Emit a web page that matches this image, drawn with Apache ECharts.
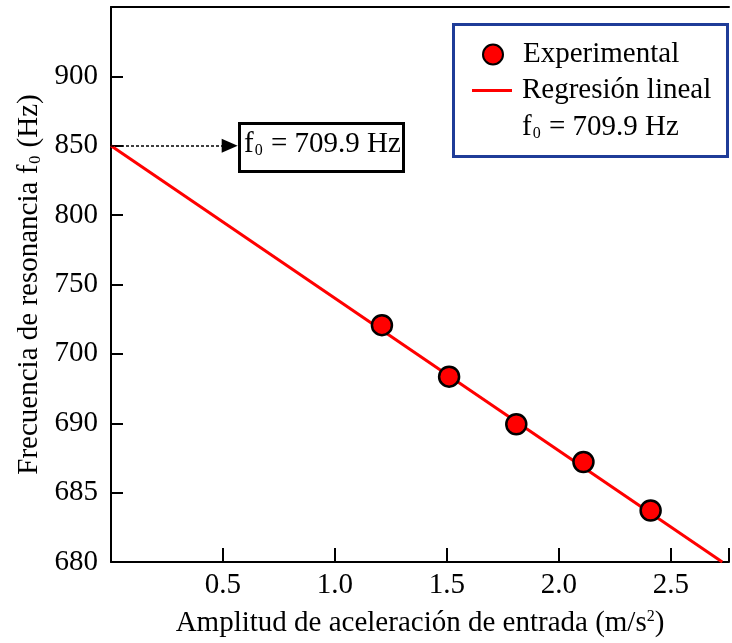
<!DOCTYPE html>
<html>
<head>
<meta charset="utf-8">
<script src="https://cdn.jsdelivr.net/npm/echarts@6/dist/echarts.min.js"></script>
<style>html,body{margin:0;padding:0;background:#fff;}#c{width:732px;height:643px;}</style>
</head>
<body>
<div id="c"></div>
<script>
// Data (y values are in the axis' linear drawing scale; tick labels map that scale to printed labels)
var expX = [1.21, 1.51, 1.81, 2.11, 2.41];
var expY = [720.7, 683.6, 649.3, 622.1, 587.1];
var regX = [0, 2.73];
var regY = [850, 550];
var yTickValues = [550, 600, 650, 700, 750, 800, 850, 900];
var yTickLabels = ['680', '685', '690', '700', '750', '800', '850', '900'];
var xTickValues = [0.5, 1.0, 1.5, 2.0, 2.5];
var xTickLabels = ['0.5', '1.0', '1.5', '2.0', '2.5'];
var f0Text = '709.9 Hz';

var FONT = 'Liberation Serif';
var FS = 29;
var chart = echarts.init(document.getElementById('c'));
var subRich = {
  sub: { fontSize: 16, fontFamily: FONT, color: '#000', verticalAlign: 'bottom', lineHeight: 14, padding: [0, 1, 0, 1] },
  sup: { fontSize: 16, fontFamily: FONT, color: '#000', verticalAlign: 'top', lineHeight: 14 }
};

function zip(a, b) { return a.map(function (v, i) { return [v, b[i]]; }); }

var legendText = { fontSize: FS, fontFamily: FONT, color: '#000', padding: [0, 0, 0, 5] };

chart.setOption({
  animation: false,
  backgroundColor: '#fff',
  grid: { left: 111, top: 7, right: 0, bottom: 75, containLabel: false },
  xAxis: [{
    type: 'value', min: 0, max: 2.76, interval: 0.5,
    position: 'bottom',
    name: 'Amplitud de aceleración de entrada (m/s{sup|2})',
    nameLocation: 'middle', nameGap: 47,
    nameTextStyle: { fontSize: FS, fontFamily: FONT, color: '#000', rich: subRich },
    axisLine: { lineStyle: { color: '#000', width: 2 } },
    axisTick: { inside: true, length: 14, lineStyle: { color: '#000', width: 2 } },
    axisLabel: {
      fontSize: FS, fontFamily: FONT, color: '#000', margin: 9,
      formatter: function (v) {
        for (var i = 0; i < xTickValues.length; i++) if (Math.abs(v - xTickValues[i]) < 1e-6) return xTickLabels[i];
        return '';
      }
    },
    splitLine: { show: false }
  }, {
    type: 'value', min: 0, max: 2.76, position: 'top',
    axisLine: { lineStyle: { color: '#000', width: 2 } },
    axisTick: { show: false }, axisLabel: { show: false }, splitLine: { show: false }
  }],
  yAxis: {
    type: 'value', min: 550, max: 950, interval: 50,
    name: 'Frecuencia de resonancia f{sub|0} (Hz)',
    nameLocation: 'middle', nameGap: 66,
    nameTextStyle: { fontSize: FS, fontFamily: FONT, color: '#000', rich: subRich },
    axisLine: { lineStyle: { color: '#000', width: 2 } },
    axisTick: { inside: true, length: 12, lineStyle: { color: '#000', width: 2 } },
    axisLabel: {
      fontSize: FS, fontFamily: FONT, color: '#000', margin: 13,
      formatter: function (v) {
        var i = yTickValues.indexOf(v);
        return i >= 0 ? yTickLabels[i] : '';
      }
    },
    splitLine: { show: false }
  },
  legend: [{
    orient: 'vertical', left: 482, top: 40,
    itemWidth: 40, itemHeight: 20, padding: 0,
    textStyle: legendText,
    data: [{ name: 'Experimental', icon: 'circle' }],
    selectedMode: false
  }, {
    orient: 'vertical', left: 472, top: 76,
    itemWidth: 40, itemHeight: 3, padding: 0,
    textStyle: legendText,
    data: [{ name: 'Regresión lineal', icon: 'rect' }],
    itemStyle: { color: '#ff0000' },
    selectedMode: false
  }],
  series: [{
    name: 'Regresión lineal', type: 'line',
    data: zip(regX, regY),
    symbol: 'none', clip: true,
    lineStyle: { color: '#ff0000', width: 3 },
    itemStyle: { color: '#ff0000' },
    z: 2,
    markLine: {
      silent: true,
      symbol: ['none', 'triangle'], symbolSize: [14, 16],
      label: { show: false },
      lineStyle: { color: '#000', type: [3, 2], width: 1.5 },
      data: [[{ coord: [0, regY[0]] }, { coord: [0.53, regY[0]] }]]
    }
  }, {
    name: 'Experimental', type: 'scatter',
    data: zip(expX, expY),
    symbol: 'circle', symbolSize: 20,
    itemStyle: { color: '#ff0000', borderColor: '#000', borderWidth: 2.5, opacity: 1 },
    z: 5
  }],
  graphic: [{
    type: 'rect', z: -1, left: 452, top: 23,
    shape: { width: 274, height: 132 },
    style: { fill: '#fff', stroke: '#1f3c98', lineWidth: 3 }
  }, {
    type: 'text', left: 522, top: 113, z: 10,
    style: { text: 'f{sub|0} = ' + f0Text, fontSize: FS, fontFamily: FONT, fill: '#000', rich: subRich }
  }, {
    type: 'rect', left: 238, top: 122, z: 10,
    shape: { width: 164, height: 48 },
    style: { fill: '#fff', stroke: '#000', lineWidth: 3 }
  }, {
    type: 'text', left: 244, top: 130, z: 11,
    style: { text: 'f{sub|0} = ' + f0Text, fontSize: FS, fontFamily: FONT, fill: '#000', rich: subRich }
  }]
});
</script>
</body>
</html>
